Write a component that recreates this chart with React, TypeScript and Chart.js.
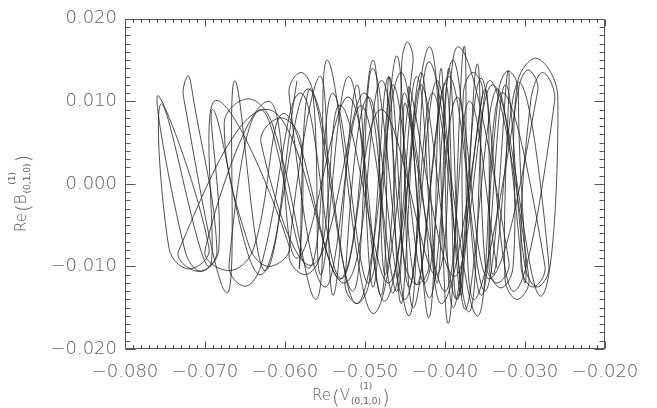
import React, { useEffect, useRef } from 'react';
import { Chart, registerables } from 'chart.js';

Chart.register(...registerables);

// Axis ranges and tick labels
const xMin = -0.08;
const xMax = -0.02;
const yMin = -0.02;
const yMax = 0.02;
const xTickValues = [-0.08, -0.07, -0.06, -0.05, -0.04, -0.03, -0.02];
const yTickValues = [-0.02, -0.01, 0.0, 0.01, 0.02];
const minorStep = 0.001;

// Axis titles
const xSymbol = 'V';
const ySymbol = 'B';
const titleSup = '(1)';
const titleSub = '(0,1,0)';

// Trajectory (turning points and loop shoulders of the orbit):
// Re(V) along x, Re(B) along y.
const reV = [
  -0.0585, -0.0625, -0.0663, -0.0672, -0.0727, -0.0721, -0.0715, -0.0685, -0.0705, -0.0725,
  -0.0759, -0.0695, -0.0720, -0.0745, -0.0754, -0.0695, -0.0687, -0.0595, -0.0620, -0.0645,
  -0.0676, -0.0646, -0.0616, -0.0560, -0.0547, -0.0490, -0.0440, -0.0447, -0.0454, -0.0460,
  -0.0505, -0.0550, -0.0595, -0.0580, -0.0565, -0.0555, -0.0520, -0.0475, -0.0419, -0.0396,
  -0.0376, -0.0365, -0.0309, -0.0321, -0.0333, -0.0345, -0.0330, -0.0315, -0.0310, -0.0285,
  -0.0259, -0.0281, -0.0340, -0.0388, -0.0445, -0.0420, -0.0435, -0.0450, -0.0480, -0.0525,
  -0.0620, -0.0733, -0.0708, -0.0683, -0.0690, -0.0630, -0.0570, -0.0510, -0.0455, -0.0420,
  -0.0385, -0.0345, -0.0284, -0.0296, -0.0308, -0.0300, -0.0335, -0.0375, -0.0395, -0.0410,
  -0.0430, -0.0465, -0.0500, -0.0565, -0.0630, -0.0605, -0.0580, -0.0582, -0.0568, -0.0515,
  -0.0490, -0.0445, -0.0420, -0.0360, -0.0330, -0.0275, -0.0290, -0.0305, -0.0293, -0.0278,
  -0.0263, -0.0315, -0.0355, -0.0385, -0.0400, -0.0440, -0.0460, -0.0495, -0.0540, -0.0570,
  -0.0630, -0.0670, -0.0650, -0.0630, -0.0580, -0.0530, -0.0480, -0.0410, -0.0384, -0.0320,
  -0.0335, -0.0350, -0.0360, -0.0385, -0.0430, -0.0455, -0.0470, -0.0480, -0.0520, -0.0585,
  -0.0620, -0.0700, -0.0670, -0.0640, -0.0600, -0.0530, -0.0490, -0.0475, -0.0450, -0.0420,
  -0.0405, -0.0390, -0.0350, -0.0340, -0.0308, -0.0270, -0.0285, -0.0300, -0.0325, -0.0355,
  -0.0390, -0.0425, -0.0465, -0.0490, -0.0510, -0.0540, -0.0555, -0.0595, -0.0575, -0.0555,
  -0.0530, -0.0470, -0.0435, -0.0405, -0.0353, -0.0365, -0.0377, -0.0380, -0.0410, -0.0450,
  -0.0495, -0.0525, -0.0510, -0.0495, -0.0470, -0.0445, -0.0415, -0.0370, -0.0345, -0.0295,
  -0.0310, -0.0325, -0.0321, -0.0350, -0.0395, -0.0435, -0.0450, -0.0400, -0.0370, -0.0335,
];

const reB = [
  0.0125, -0.0105, 0.0125, -0.0132, 0.0106, 0.0131, 0.0106, -0.0081, -0.0106, -0.0081,
  0.0107, -0.0078, -0.0103, -0.0078, 0.0097, -0.0100, 0.0101, -0.0075, -0.0100, -0.0075,
  0.0073, 0.0103, 0.0073, -0.0139, 0.0150, -0.0157, 0.0147, 0.0172, 0.0147, -0.0130,
  0.0095, -0.0125, 0.0110, 0.0135, 0.0110, -0.0110, 0.0130, -0.0142, 0.0166, -0.0169,
  0.0167, -0.0140, 0.0112, 0.0137, 0.0112, -0.0101, -0.0126, -0.0101, 0.0120, 0.0152,
  0.0105, -0.0136, 0.0120, -0.0112, 0.0118, -0.0097, -0.0122, -0.0097, 0.0125, -0.0120,
  0.0090, -0.0081, -0.0106, -0.0081, 0.0090, -0.0110, 0.0115, -0.0145, 0.0135, -0.0138,
  0.0105, -0.0115, 0.0113, 0.0138, 0.0113, -0.0120, 0.0115, -0.0152, 0.0140, -0.0120,
  0.0135, -0.0132, 0.0110, -0.0098, 0.0050, 0.0080, 0.0050, -0.0102, 0.0115, -0.0130,
  0.0140, -0.0160, 0.0148, -0.0160, 0.0110, -0.0100, -0.0125, -0.0100, 0.0100, 0.0135,
  0.0100, -0.0130, 0.0128, -0.0140, 0.0122, -0.0150, 0.0155, -0.0120, 0.0110, -0.0102,
  0.0090, -0.0099, -0.0124, -0.0099, 0.0110, -0.0115, 0.0090, -0.0110, 0.0166, -0.0095,
  -0.0120, -0.0095, 0.0145, -0.0140, 0.0120, -0.0145, 0.0130, -0.0135, 0.0105, -0.0090,
  0.0100, -0.0080, -0.0105, -0.0080, 0.0085, -0.0115, 0.0150, -0.0110, 0.0110, -0.0162,
  0.0140, -0.0150, 0.0115, -0.0110, 0.0123, -0.0100, -0.0125, -0.0100, 0.0120, -0.0135,
  0.0150, -0.0120, 0.0120, -0.0125, 0.0120, -0.0135, 0.0130, -0.0085, -0.0110, -0.0085,
  0.0095, -0.0120, 0.0130, -0.0145, 0.0110, 0.0135, 0.0110, -0.0135, 0.0125, -0.0140,
  0.0105, -0.0120, -0.0145, -0.0120, 0.0130, -0.0125, 0.0110, -0.0155, 0.0125, -0.0115,
  -0.0140, -0.0115, 0.0137, -0.0130, 0.0130, -0.0122, 0.0098, -0.0130, 0.0100, -0.0102,
];

const FONT = "'DejaVu Sans', 'Liberation Sans', sans-serif";
const FONT_WEIGHT = '200';
const TEXT_COLOR = '#606060';
const AXIS_COLOR = '#555555';
const LINE_COLOR = '#222222';

function fmt(v: number): string {
  const s = Math.abs(v).toFixed(3);
  return v < -1e-9 ? '\u2212' + s : s;
}

function drawTitle(ctx: CanvasRenderingContext2D, sym: string) {
  ctx.textBaseline = 'alphabetic';
  ctx.textAlign = 'left';
  ctx.font = `${FONT_WEIGHT} 15px ${FONT}`;
  ctx.fillText('Re', 0, 0);
  let x = ctx.measureText('Re').width + 1;
  ctx.font = `${FONT_WEIGHT} 20px ${FONT}`;
  ctx.fillText('(', x, 4);
  x += ctx.measureText('(').width;
  ctx.font = `${FONT_WEIGHT} 15px ${FONT}`;
  ctx.fillText(sym, x, 0);
  x += ctx.measureText(sym).width + 1;
  ctx.font = `normal 9px ${FONT}`;
  const wSub = ctx.measureText(titleSub).width;
  const wSup = ctx.measureText(titleSup).width;
  ctx.fillText(titleSup, x + (wSub - wSup) / 2, -11);
  ctx.fillText(titleSub, x, 4);
  x += Math.max(wSub, wSup) + 1;
  ctx.font = `${FONT_WEIGHT} 20px ${FONT}`;
  ctx.fillText(')', x, 4);
}

const framePlugin = {
  id: 'idlFrame',
  afterDraw(chart: any) {
    const { ctx, chartArea: a, scales } = chart;
    const xs = scales.x;
    const ys = scales.y;
    ctx.save();
    ctx.strokeStyle = AXIS_COLOR;
    ctx.lineWidth = 1;
    const L = Math.round(a.left) + 0.5;
    const R = Math.round(a.right) - 0.5;
    const T = Math.round(a.top) + 0.5;
    const B = Math.round(a.bottom) - 0.5;
    ctx.strokeRect(L, T, R - L, B - T);
    ctx.beginPath();
    const nx = Math.round((xMax - xMin) / minorStep);
    for (let i = 0; i <= nx; i++) {
      const v = xMin + i * minorStep;
      const px = Math.round(xs.getPixelForValue(v)) + 0.5;
      const len = i % 10 === 0 ? 7 : 3.5;
      ctx.moveTo(px, B);
      ctx.lineTo(px, B - len);
      ctx.moveTo(px, T);
      ctx.lineTo(px, T + len);
    }
    const ny = Math.round((yMax - yMin) / minorStep);
    for (let i = 0; i <= ny; i++) {
      const v = yMin + i * minorStep;
      const py = Math.round(ys.getPixelForValue(v)) + 0.5;
      const len = i % 10 === 0 ? 10 : 5;
      ctx.moveTo(L, py);
      ctx.lineTo(L + len, py);
      ctx.moveTo(R, py);
      ctx.lineTo(R - len, py);
    }
    ctx.stroke();

    ctx.fillStyle = TEXT_COLOR;
    ctx.save();
    ctx.translate(312, 400);
    drawTitle(ctx, xSymbol);
    ctx.restore();
    ctx.save();
    ctx.translate(26, 232);
    ctx.rotate(-Math.PI / 2);
    drawTitle(ctx, ySymbol);
    ctx.restore();
    ctx.restore();
  },
};

export default function App() {
  const canvasRef = useRef<HTMLCanvasElement | null>(null);

  useEffect(() => {
    document.body.style.margin = '0';
    const canvas = canvasRef.current;
    if (!canvas) return;
    const points = reV.map((v, i) => ({ x: v, y: reB[i] }));
    const tickFont = { family: FONT, size: 18, weight: FONT_WEIGHT };
    const chart = new Chart(canvas, {
      type: 'scatter',
      data: {
        datasets: [
          {
            data: points,
            showLine: true,
            borderColor: LINE_COLOR,
            borderWidth: 0.8,
            pointRadius: 0,
            tension: 0.4,
            fill: false,
          },
        ],
      },
      options: {
        responsive: false,
        maintainAspectRatio: false,
        animation: false,
        events: [],
        layout: { padding: { left: 0, right: 52, top: 10, bottom: 0 } },
        plugins: { legend: { display: false }, tooltip: { enabled: false } },
        elements: { line: { capBezierPoints: false } },
        scales: {
          x: {
            type: 'linear',
            min: xMin,
            max: xMax,
            afterFit: (s: any) => {
              s.height = 59;
            },
            afterBuildTicks: (s: any) => {
              s.ticks = xTickValues.map((v) => ({ value: v }));
            },
            grid: { display: false, drawTicks: false },
            border: { display: false },
            ticks: {
              callback: (v: any) => fmt(Number(v)),
              color: TEXT_COLOR,
              font: tickFont,
              padding: 13,
              maxRotation: 0,
              autoSkip: false,
            },
          },
          y: {
            type: 'linear',
            min: yMin,
            max: yMax,
            afterFit: (s: any) => {
              s.width = 125;
            },
            afterBuildTicks: (s: any) => {
              s.ticks = yTickValues.map((v) => ({ value: v }));
            },
            grid: { display: false, drawTicks: false },
            border: { display: false },
            ticks: {
              callback: (v: any) => fmt(Number(v)),
              color: TEXT_COLOR,
              font: tickFont,
              padding: 8,
              autoSkip: false,
            },
          },
        },
      },
      plugins: [framePlugin],
    });
    return () => chart.destroy();
  }, []);

  return (
    <div style={{ width: 657, height: 408 }}>
      <canvas ref={canvasRef} width={657} height={408} style={{ display: 'block' }} />
    </div>
  );
}
